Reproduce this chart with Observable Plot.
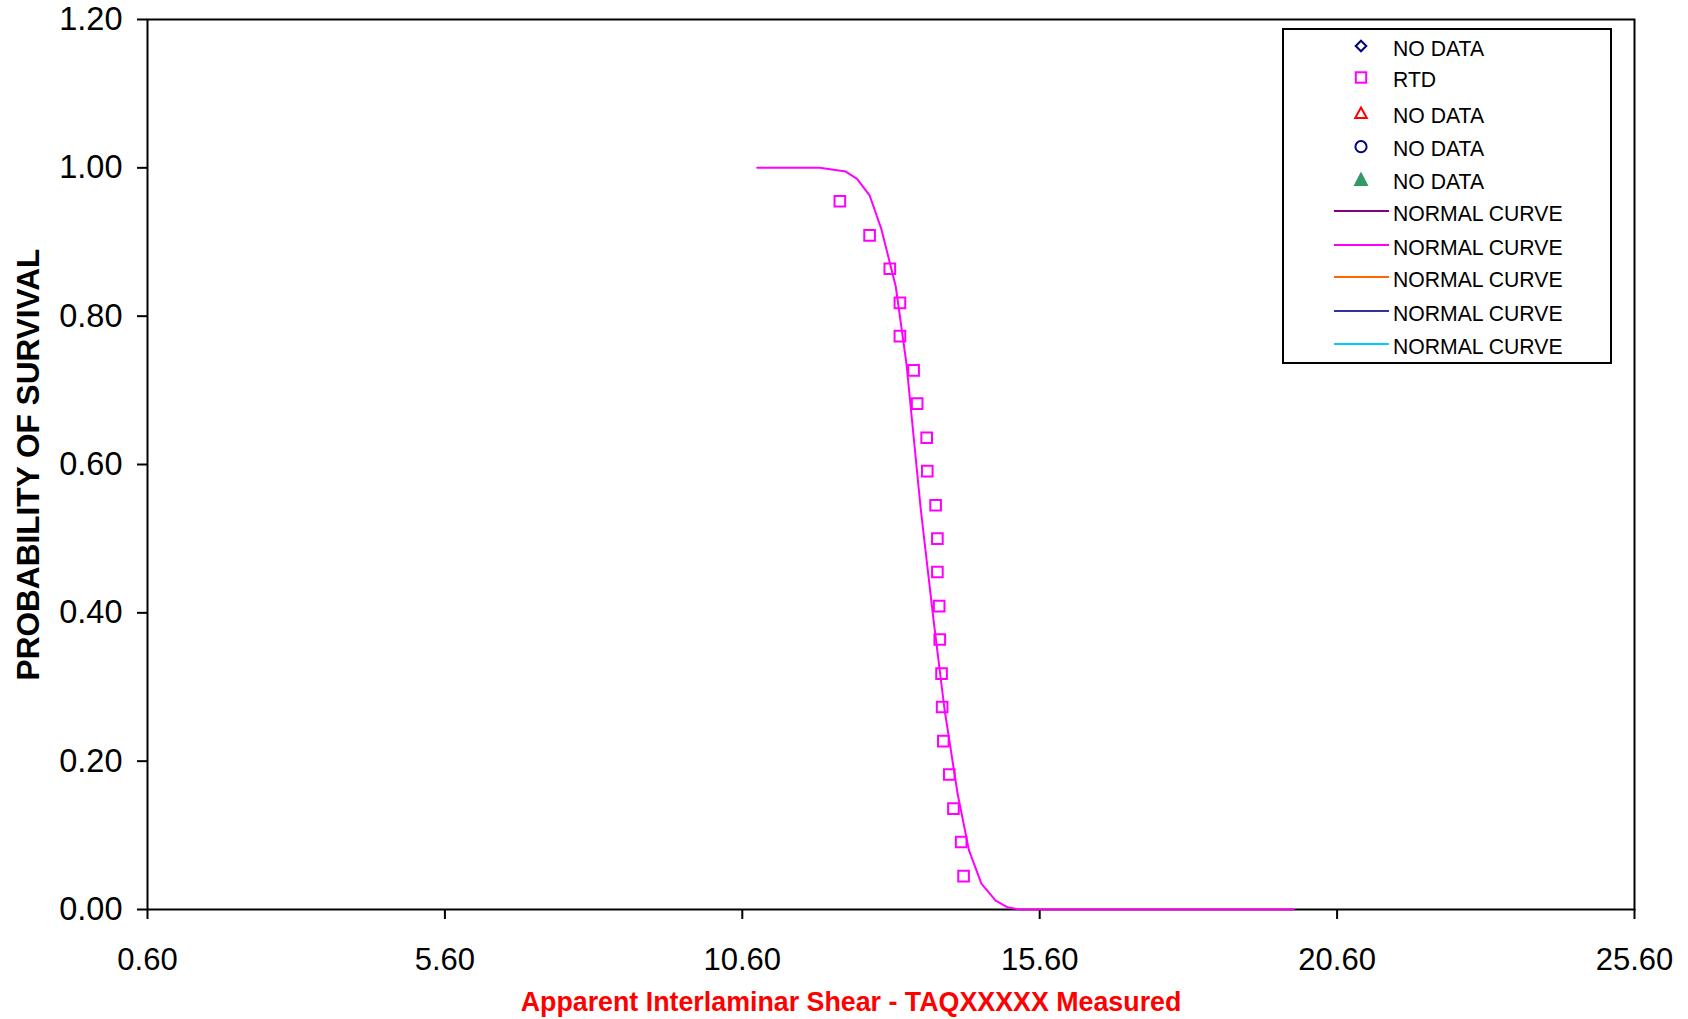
<!DOCTYPE html>
<html>
<head>
<meta charset="utf-8">
<script src="https://cdn.jsdelivr.net/npm/d3@7"></script>
<script src="https://cdn.jsdelivr.net/npm/@observablehq/plot@0.6"></script>
<style>
  html, body { margin: 0; padding: 0; background: white; overflow: hidden; }
  #chart svg { display: block; }
</style>
</head>
<body>
<div id="chart"></div>
<script>
// Tick values
const xTicks = [0.6, 5.6, 10.6, 15.6, 20.6, 25.6];
const yTicks = [0, 0.2, 0.4, 0.6, 0.8, 1.0, 1.2];

// RTD measured points
const rtdX = [12.24, 12.74, 13.08, 13.25, 13.25, 13.48, 13.54, 13.70, 13.71, 13.85, 13.88,
              13.88, 13.91, 13.92, 13.95, 13.96, 13.98, 14.08, 14.15, 14.28, 14.32];
const rtdY = [0.955, 0.909, 0.864, 0.818, 0.773, 0.727, 0.682, 0.636, 0.591, 0.545, 0.500,
              0.455, 0.409, 0.364, 0.318, 0.273, 0.227, 0.182, 0.136, 0.091, 0.045];

// Normal curve
const curveX = [10.85, 11.90, 12.34, 12.53, 12.74, 12.94, 13.18, 13.36, 13.60, 13.81, 14.00,
                14.22, 14.41, 14.62, 14.86, 15.06, 15.25, 19.87];
const curveY = [1.000, 1.000, 0.995, 0.985, 0.963, 0.917, 0.840, 0.736, 0.540, 0.394, 0.270,
                0.156, 0.080, 0.035, 0.012, 0.003, 0.000, 0.000];

// Legend entries
const legendLabels = ["NO DATA", "RTD", "NO DATA", "NO DATA", "NO DATA",
                      "NORMAL CURVE", "NORMAL CURVE", "NORMAL CURVE", "NORMAL CURVE", "NORMAL CURVE"];
const legendKinds = ["diamond", "square", "triangle", "circle", "filledTriangle",
                     "line", "line", "line", "line", "line"];
const legendColors = ["#000080", "#FF00FF", "#FF0000", "#000080", "#339966",
                      "#800080", "#FF00FF", "#FF6600", "#333399", "#00CCFF"];

const rtd = rtdX.map((x, i) => ({x, y: rtdY[i]}));
const curve = curveX.map((x, i) => ({x, y: curveY[i]}));

const FONT = "Arial, 'Liberation Sans', Helvetica, sans-serif";
const fmt = d3.format(".2f");

const chart = Plot.plot({
  width: 1688,
  height: 1019,
  marginLeft: 147,
  marginRight: 54,
  marginTop: 19,
  marginBottom: 110,
  style: {fontFamily: FONT, fontSize: "30px", background: "white", color: "black", overflow: "visible"},
  x: {domain: [0.6, 25.6]},
  y: {domain: [0, 1.2]},
  marks: [
    Plot.axisX({ticks: xTicks, tickFormat: fmt, tickSize: 10, tickPadding: 28, strokeWidth: 2, label: null, fontSize: 31, fill: "black"}),
    Plot.axisY({ticks: yTicks, tickFormat: fmt, tickSize: 10, tickPadding: 15, strokeWidth: 2, label: null, fontSize: 32.5, fill: "black"}),
    Plot.frame({stroke: "black", strokeWidth: 2}),
    Plot.line(curve, {x: "x", y: "y", stroke: "#FF00FF", strokeWidth: 2}),
    Plot.dot(rtd, {x: "x", y: "y", symbol: "square", r: 6, stroke: "#FF00FF", strokeWidth: 2, fill: "none"}),
    Plot.text(["PROBABILITY OF SURVIVAL"], {frameAnchor: "left", textAnchor: "middle", dx: -119, rotate: -90, fontWeight: "bold", fontSize: 31.6, fill: "black", text: d => d}),
    Plot.text(["Apparent Interlaminar Shear - TAQXXXXX Measured"], {frameAnchor: "bottom", textAnchor: "middle", dx: -40, dy: 101.5, fontWeight: "bold", fontSize: 26.8, fill: "#FF0000", text: d => d})
  ]
});

document.getElementById("chart").appendChild(chart);

// Legend box
const svg = d3.select(chart);
const lg = svg.append("g").attr("font-family", FONT).attr("text-anchor", "start");
lg.append("rect")
  .attr("x", 1283).attr("y", 29).attr("width", 328).attr("height", 334)
  .attr("fill", "white").attr("stroke", "black").attr("stroke-width", 2);

const rowY = [46, 77.5, 113, 146.7, 179, 211, 245, 277, 311, 344];
const symX = 1361;
legendLabels.forEach((lab, i) => {
  const cy = rowY[i];
  const col = legendColors[i];
  const kind = legendKinds[i];
  const g = lg.append("g").attr("transform", `translate(${symX},${cy})`);
  if (kind === "diamond") {
    g.append("path").attr("d", "M0,-5.3L5.3,0L0,5.3L-5.3,0Z").attr("fill", "none").attr("stroke", col).attr("stroke-width", 2);
  } else if (kind === "square") {
    g.append("rect").attr("x", -5.2).attr("y", -5.2).attr("width", 10.4).attr("height", 10.4).attr("fill", "none").attr("stroke", col).attr("stroke-width", 2);
  } else if (kind === "triangle") {
    g.append("path").attr("d", "M0,-5.5L5.8,5L-5.8,5Z").attr("fill", "none").attr("stroke", col).attr("stroke-width", 2);
  } else if (kind === "circle") {
    g.append("circle").attr("r", 5.6).attr("fill", "none").attr("stroke", col).attr("stroke-width", 2);
  } else if (kind === "filledTriangle") {
    g.append("path").attr("d", "M0,-7.5L7.5,7L-7.5,7Z").attr("fill", col);
  } else {
    g.append("line").attr("x1", -27).attr("x2", 28).attr("y1", 0).attr("y2", 0).attr("stroke", col).attr("stroke-width", 2);
  }
  lg.append("text")
    .attr("x", 1393).attr("y", cy + 2 + 7.5)
    .attr("text-anchor", "start")
    .attr("font-size", 21.2).attr("fill", "black")
    .text(lab);
});
</script>
</body>
</html>
